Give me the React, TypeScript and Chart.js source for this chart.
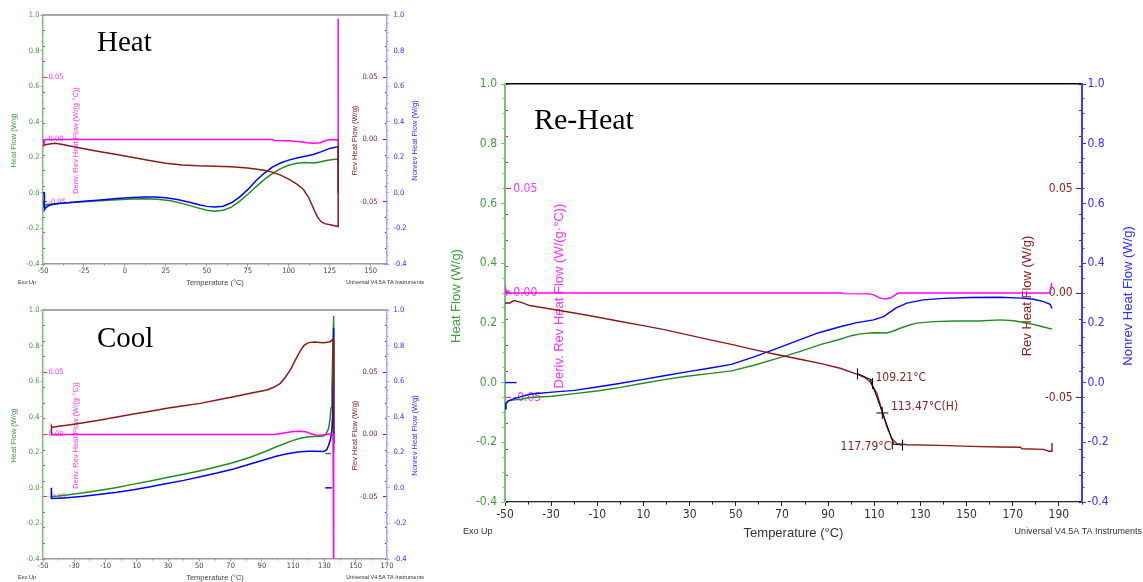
import React, { useEffect, useRef } from 'react';
import { Chart, registerables } from 'chart.js';

Chart.register(...registerables);

type Pt = [number, number];

/* ---------------- axis labels shared by the three runs ---------------- */
const heatFlowLabels = [-0.4, -0.2, 0, 0.2, 0.4, 0.6, 0.8, 1.0];
const revFlowLabels = [-0.05, 0, 0.05];

/* ---------------- Heat ---------------- */
const heatTempLabels = [-50, -25, 0, 25, 50, 75, 100, 125, 150];

const heatHeatFlow: Pt[] = [
  [-50, -0.045], [-49.5, -0.077], [-48.8, -0.07], [-47.5, -0.066], [-45, -0.063], [-40, -0.059],
  [-35, -0.056], [-25, -0.05], [-15, -0.044], [-5, -0.039], [5, -0.035], [12, -0.033], [20, -0.036],
  [28, -0.045], [36, -0.062], [44, -0.083], [50, -0.098], [55, -0.104], [60, -0.098], [65, -0.08],
  [70, -0.048], [75, -0.008], [80, 0.034], [85, 0.074], [90, 0.108], [95, 0.136], [100, 0.155],
  [105, 0.166], [110, 0.171], [115, 0.168], [119, 0.174], [123, 0.182], [127, 0.188], [130.2, 0.19],
  [130.2, 0.165],
];

const heatNonrevHeatFlow: Pt[] = [
  [-50, 0.0], [-49.3, 0.0], [-49.1, -0.095], [-48.5, -0.086], [-47, -0.074], [-45, -0.067], [-40, -0.06],
  [-35, -0.055], [-25, -0.047], [-15, -0.04], [-5, -0.032], [5, -0.026], [12, -0.023], [18, -0.023],
  [25, -0.027], [32, -0.037], [40, -0.054], [46, -0.068], [50, -0.076], [55, -0.08], [60, -0.075],
  [65, -0.056], [70, -0.024], [75, 0.018], [80, 0.068], [85, 0.11], [90, 0.145], [95, 0.168],
  [100, 0.184], [105, 0.196], [110, 0.206], [115, 0.216], [120, 0.232], [125, 0.25], [130.2, 0.26],
  [130.2, 0.0],
];

const heatRevHeatFlow: Pt[] = [
  [-50, -0.001], [-49.6, -0.005], [-48.8, -0.0042], [-46, -0.0036], [-42.5, -0.003], [-38, -0.004],
  [-35, -0.0048], [-25, -0.0074], [-15, -0.0098], [-5, -0.0121], [5, -0.0144], [15, -0.0168],
  [25, -0.019], [35, -0.0205], [45, -0.0211], [55, -0.0214], [65, -0.0219], [75, -0.0228],
  [85, -0.0247], [90, -0.0262], [95, -0.0286], [100, -0.0318], [105, -0.0358], [109, -0.0402],
  [112, -0.0462], [114, -0.052], [116, -0.058], [118, -0.0632], [120, -0.0662], [122, -0.0676],
  [126, -0.0687], [130.2, -0.0699], [130.2, 0.0],
];

const heatDerivRevHeatFlow: Pt[] = [
  [-50, 0.0], [-49.6, -0.005], [-49.1, -0.001], [-48.5, 0.0], [90, 0.0], [91, -0.0008], [100, -0.0011],
  [107, -0.0018], [111, -0.0026], [115.5, -0.0031], [119.5, -0.0026], [122, -0.001], [125, -0.0002],
  [127.5, 0.0], [129.5, -0.0005], [130.2, 0.0], [130.2, 0.097],
];

/* ---------------- Cool ---------------- */
const coolTempLabels = [-50, -30, -10, 10, 30, 50, 70, 90, 110, 130, 150, 170];

const coolHeatFlow: Pt[] = [
  [-44.6, -0.049], [-40, -0.046], [-34.7, -0.04], [-24, -0.028], [-13.3, -0.013], [-2.7, 0.002],
  [8, 0.021], [18.6, 0.038], [29.3, 0.058], [40, 0.077], [50.6, 0.096], [61.3, 0.119], [71.9, 0.143],
  [82.6, 0.172], [93.3, 0.209], [98.6, 0.228], [103.9, 0.247], [109, 0.264], [114.6, 0.279],
  [119, 0.286], [123.1, 0.289], [129.5, 0.291], [130.8, 0.3], [132.5, 0.33], [133.5, 0.38],
  [134.2, 0.45], [134.8, 0.56], [135.4, 0.8], [135.9, 0.968], [135.9, 0.2],
];
const coolHeatFlowStart: Pt[] = [[130.5, 0.193], [134.2, 0.193]];

const coolNonrevHeatFlow: Pt[] = [
  [-44.7, 0.0], [-44.6, -0.06], [-40, -0.058], [-34.7, -0.055], [-24, -0.047], [-13.3, -0.036],
  [-2.7, -0.025], [8, -0.011], [18.6, 0.006], [29.3, 0.025], [40, 0.042], [50.6, 0.062], [61.3, 0.083],
  [71.9, 0.106], [82.6, 0.134], [93.3, 0.162], [98.6, 0.176], [103.9, 0.187], [109, 0.196],
  [114.6, 0.203], [120, 0.206], [124, 0.206], [129.5, 0.205], [131.5, 0.215], [132.7, 0.24],
  [133.8, 0.27], [134.6, 0.31], [135.2, 0.4], [135.6, 0.6], [135.9, 0.9], [135.9, 0.25],
];
const coolNonrevStart: Pt[] = [[130.5, 0.0], [134.7, 0.0]];

const coolRevHeatFlow: Pt[] = [
  [-44.7, 0.0], [-44.6, 0.0067], [-44.2, 0.0056], [-40, 0.0066], [-34.7, 0.0075], [-24, 0.0095],
  [-13.3, 0.0116], [-2.7, 0.014], [8, 0.0164], [18.6, 0.0187], [29.3, 0.021], [40, 0.023],
  [50.6, 0.025], [61.3, 0.0277], [71.9, 0.0304], [82.6, 0.0331], [93.3, 0.0358], [97.5, 0.0379],
  [101.8, 0.0411], [105, 0.046], [108.2, 0.0519], [111.4, 0.06], [114.6, 0.0672], [116.7, 0.0712],
  [118.8, 0.0732], [121, 0.074], [124, 0.0742], [127, 0.0739], [129.5, 0.0737], [131.7, 0.0741],
  [133.8, 0.0747], [135.5, 0.0768], [135.9, 0.0768], [135.9, 0.0],
];

const coolDerivRevHeatFlow: Pt[] = [
  [-44.7, 0.0], [97.5, 0.0], [102, 0.0008], [106, 0.0016], [110, 0.0024], [114, 0.0027], [118, 0.0022],
  [121, 0.0008], [124, -0.0004], [127, -0.0006], [130, -0.0002], [133, 0.0004], [135.5, 0.0],
  [135.9, -0.02], [135.9, -0.11],
];

/* ---------------- Re-Heat ---------------- */
const reheatTempLabels = [-50, -30, -10, 10, 30, 50, 70, 90, 110, 130, 150, 170, 190];

const reheatHeatFlow: Pt[] = [
  [-50, -0.085], [-49.6, -0.068], [-48.5, -0.061], [-46, -0.058], [-43, -0.056], [-39.3, -0.05],
  [-29.6, -0.046], [-19.9, -0.037], [-10.2, -0.028], [-0.5, -0.017], [9.3, -0.003], [19, 0.01],
  [28.7, 0.021], [38.4, 0.03], [48.1, 0.039], [57.9, 0.058], [67.6, 0.08], [77.3, 0.103], [87, 0.128],
  [95.2, 0.145], [100, 0.157], [104, 0.163], [109.7, 0.167], [115.4, 0.166], [118, 0.172],
  [121.2, 0.182], [125, 0.192], [128.4, 0.199], [135.6, 0.204], [145.3, 0.206], [155, 0.206],
  [164.7, 0.21], [170.6, 0.207], [174.4, 0.201], [179, 0.195], [183, 0.187], [187, 0.179],
];

const reheatNonrevHeatFlow: Pt[] = [
  [-50, -0.088], [-49.6, -0.07], [-48.5, -0.061], [-46, -0.054], [-43, -0.047], [-39.3, -0.039],
  [-29.6, -0.032], [-19.9, -0.026], [-10.2, -0.015], [-0.5, -0.003], [9.3, 0.01], [19, 0.023],
  [28.7, 0.036], [38.4, 0.048], [48.1, 0.061], [57.9, 0.086], [67.6, 0.114], [77.3, 0.142], [86, 0.167],
  [95.2, 0.187], [102, 0.2], [109.7, 0.21], [114, 0.221], [117, 0.237], [119.5, 0.25], [124.1, 0.266],
  [131.3, 0.277], [140, 0.282], [151.6, 0.285], [164.6, 0.286], [174, 0.283], [179, 0.279],
  [183.4, 0.271], [186.2, 0.262], [187, 0.248],
];
const reheatNonrevStart: Pt[] = [[-50, 0.0], [-45, 0.0]];

const reheatRevHeatFlow: Pt[] = [
  [-50, -0.0052], [-49, -0.0047], [-48.2, -0.0049], [-46, -0.0036], [-43, -0.0045], [-39.3, -0.006],
  [-29.6, -0.0078], [-19.9, -0.0096], [-10.2, -0.0115], [-0.5, -0.0135], [9.3, -0.0155], [19, -0.0175],
  [28.7, -0.0199], [38.4, -0.0223], [48.1, -0.0246], [57.9, -0.0271], [67.6, -0.0294], [77.3, -0.0316],
  [87, -0.0338], [95.2, -0.036], [102.4, -0.0388], [106, -0.0405], [108.2, -0.0425], [111.1, -0.048],
  [113.3, -0.0561], [115.5, -0.0641], [117.6, -0.0697], [119.8, -0.0721], [124.1, -0.0726],
  [138.6, -0.0729], [151.6, -0.0734], [164.6, -0.0737], [173.3, -0.0738], [174, -0.0745],
  [183.4, -0.0748], [185.6, -0.0757], [186.6, -0.0757], [187, -0.0718],
];

const reheatDerivRevHeatFlow: Pt[] = [
  [-50, 0.0], [-49.6, 0.0015], [-49.2, -0.0005], [-48.6, 0.001], [-48, 0.0], [96, 0.0], [96.7, -0.0003],
  [108, -0.0004], [110, -0.001], [112, -0.0022], [114.7, -0.0029], [117, -0.0024], [119, -0.001],
  [120.4, 0.0], [186.2, 0.0], [186.9, 0.0048],
];

// glass transition analysis on the reversing signal
const reheatOnsetTangent: Pt[] = [[102.7, -0.0385], [109.6, -0.042]];
const reheatStepTangent: Pt[] = [[108.2, -0.041], [118.4, -0.0721]];
const reheatEndTangent: Pt[] = [[117.6, -0.0722], [122.2, -0.0728]];
const reheatLimitTemps = [102.7, 122.2];
const reheatLimitRev = [-0.0387, -0.0728];
const reheatTransitionTemps = [109.21, 113.47, 117.79];
const reheatTransitionRev = [-0.0433, -0.0574, -0.0722];
const reheatTransitionTags = ['', '(H)', ''];

/* ---------------- look ---------------- */
const NARROW = '"Liberation Sans Narrow", "Arial Narrow", "DejaVu Sans Condensed", "Liberation Sans", sans-serif';
const SANS = '"Liberation Sans", Arial, sans-serif';
const SERIF = '"Liberation Serif", "Times New Roman", serif';

const GREEN = '#228b22';
const GREEN_TEXT = '#3f9f3f';
const GREEN_AXIS = '#7dc07d';
const BLUE = '#0000ff';
const BLUE_TEXT = '#3030ff';
const BROWN = '#8b1a1a';
const PINK = '#ff00ff';
const PINK_TEXT = '#ff33ff';

interface Look {
  tickFont: number; titleFont: number; noteFont: number; bigFont: number;
  majorTick: number; minorTick: number; innerMajor: number; innerMinor: number;
  hfPad: number; nonPad: number; derivPad: number; revPad: number; xPad: number;
  blueAxis: string; topAxis: string; bottomAxis: string; xLabelColor: string;
  axisWidth: number; topWidth: number; bottomWidth: number; curveWidth: number;
  hfTitleDx: number; derivTitleDx: number; revTitleDx: number; nonTitleDx: number;
  titleDy: number; xTitleDy: number; noteDy: number; noteLeft: number; noteRightInset: number;
}

const smallLook: Look = {
  tickFont: 7.5, titleFont: 7.5, noteFont: 5.5, bigFont: 29,
  majorTick: 2.5, minorTick: 1.5, innerMajor: 4, innerMinor: 2,
  hfPad: 1, nonPad: 4, derivPad: 5.5, revPad: -9.5, xPad: 0.5,
  blueAxis: '#a6a6ff', topAxis: '#a8a8a8', bottomAxis: '#9a9a9a', xLabelColor: '#444',
  axisWidth: 1.5, topWidth: 2, bottomWidth: 1.5, curveWidth: 1.5,
  hfTitleDx: -29, derivTitleDx: 33, revTitleDx: -32, nonTitleDx: 28,
  titleDy: 1, xTitleDy: 19, noteDy: 18, noteLeft: 18, noteRightInset: 6,
};

const largeLook: Look = {
  tickFont: 12, titleFont: 13, noteFont: 9, bigFont: 30,
  majorTick: 4, minorTick: 2.5, innerMajor: 6, innerMinor: 3,
  hfPad: 4, nonPad: 1.5, derivPad: 8.3, revPad: -9.3, xPad: 2,
  blueAxis: '#3d3dff', topAxis: '#000', bottomAxis: '#222', xLabelColor: '#333',
  axisWidth: 2, topWidth: 1.5, bottomWidth: 1.2, curveWidth: 1.4,
  hfTitleDx: -48.3, derivTitleDx: 54.3, revTitleDx: -54.7, nonTitleDx: 46.3,
  titleDy: 3, xTitleDy: 31, noteDy: 30, noteLeft: 23, noteRightInset: 1,
};

type AxisId = 'y' | 'yNon' | 'yRev' | 'yDeriv';
interface Series { pts: Pt[]; color: string; axis: AxisId; width?: number }
interface Marker { pts: Pt[]; style: 'line' | 'cross'; radius: number; rotation: number }
interface Caption {
  text: string; x: number; y: number; color: string; font: string;
  align?: CanvasTextAlign; baseline?: CanvasTextBaseline; vertical?: boolean;
}
interface PanelSpec {
  width: number; height: number; padTop: number; leftW: number; rightW: number; bottomH: number;
  xMin: number; xMax: number; xLabels: number[]; xMinorStep: number;
  title: string; titleX: number; titleY: number; look: Look;
  series: Series[]; markers?: Marker[]; notes?: (chart: Chart) => Caption[];
}

function steps(from: number, to: number, step: number): number[] {
  const out: number[] = [];
  for (let i = 0; ; i++) {
    const v = Math.round((from + i * step) * 1e6) / 1e6;
    if (v > to + 1e-9) break;
    out.push(v);
  }
  return out;
}

interface ScaleOpts {
  axis: 'x' | 'y'; position: string; min: number; max: number; weight: number; size: number;
  values: number[]; tickLength: number; tickColor: string; drawTicks?: boolean;
  labels?: { color: string; padding: number; mirror?: boolean; format: (v: number) => string };
  border?: { color: string; width: number };
}

function makeScale(o: ScaleOpts, fontSize: number) {
  return {
    type: 'linear', axis: o.axis, position: o.position, min: o.min, max: o.max, weight: o.weight,
    offset: false,
    afterBuildTicks: (sc: any) => { sc.ticks = o.values.map((value) => ({ value })); },
    afterFit: (sc: any) => {
      if (o.axis === 'y') sc.width = o.size; else sc.height = o.size;
      sc.paddingTop = 0; sc.paddingBottom = 0; sc.paddingLeft = 0; sc.paddingRight = 0;
    },
    grid: {
      display: true, drawOnChartArea: false, drawTicks: o.drawTicks ?? true,
      tickLength: o.tickLength, tickColor: o.tickColor, tickWidth: 1,
    },
    border: o.border ? { display: true, color: o.border.color, width: o.border.width } : { display: false },
    ticks: o.labels
      ? {
          display: true, autoSkip: false, maxRotation: 0, minRotation: 0,
          mirror: !!o.labels.mirror, padding: o.labels.padding, color: o.labels.color,
          font: { family: NARROW, size: fontSize },
          callback: (v: any) => o.labels!.format(Number(v)),
        }
      : { display: false },
  };
}

function buildScales(p: PanelSpec) {
  const s = p.look;
  const f = s.tickFont;
  const hfMinor = steps(-0.4, 1.0, 0.05);
  const revMinor = steps(-0.1, 0.1, 0.0125);
  const fmt1 = (v: number) => v.toFixed(1);
  const fmt2 = (v: number) => v.toFixed(2);
  return {
    x: makeScale({
      axis: 'x', position: 'bottom', min: p.xMin, max: p.xMax, weight: 10, size: p.bottomH,
      values: p.xLabels, tickLength: s.majorTick, tickColor: s.bottomAxis,
      labels: { color: s.xLabelColor, padding: s.xPad, format: (v) => String(v) },
      border: { color: s.bottomAxis, width: s.bottomWidth },
    }, f),
    xMinor: makeScale({
      axis: 'x', position: 'bottom', min: p.xMin, max: p.xMax, weight: 0, size: 0,
      values: steps(p.xMin, p.xMax, p.xMinorStep), tickLength: s.minorTick, tickColor: s.bottomAxis,
    }, f),
    xTop: makeScale({
      axis: 'x', position: 'top', min: p.xMin, max: p.xMax, weight: 0, size: 0,
      values: [p.xMin], tickLength: 0, drawTicks: false, tickColor: s.topAxis,
      border: { color: s.topAxis, width: s.topWidth },
    }, f),
    y: makeScale({
      axis: 'y', position: 'left', min: -0.4, max: 1.0, weight: 10, size: p.leftW,
      values: heatFlowLabels, tickLength: s.majorTick, tickColor: GREEN_AXIS,
      labels: { color: GREEN_TEXT, padding: s.hfPad, format: fmt1 },
      border: { color: GREEN_AXIS, width: s.axisWidth },
    }, f),
    yMinor: makeScale({
      axis: 'y', position: 'left', min: -0.4, max: 1.0, weight: 0, size: 0,
      values: hfMinor, tickLength: s.minorTick, tickColor: GREEN_AXIS,
    }, f),
    yDeriv: makeScale({
      axis: 'y', position: 'left', min: -0.1, max: 0.1, weight: 0, size: 0,
      values: revFlowLabels, tickLength: -s.innerMajor, tickColor: PINK,
      labels: { color: PINK_TEXT, padding: s.derivPad, mirror: true, format: fmt2 },
    }, f),
    yDerivMinor: makeScale({
      axis: 'y', position: 'left', min: -0.1, max: 0.1, weight: 0, size: 0,
      values: revMinor, tickLength: -s.innerMinor, tickColor: PINK,
    }, f),
    yRev: makeScale({
      axis: 'y', position: 'right', min: -0.1, max: 0.1, weight: 0, size: 0,
      values: revFlowLabels, tickLength: -s.innerMajor, tickColor: BROWN,
      labels: { color: BROWN, padding: s.revPad, mirror: true, format: fmt2 },
    }, f),
    yRevMinor: makeScale({
      axis: 'y', position: 'right', min: -0.1, max: 0.1, weight: 0, size: 0,
      values: revMinor, tickLength: -s.innerMinor, tickColor: BROWN,
    }, f),
    yNon: makeScale({
      axis: 'y', position: 'right', min: -0.4, max: 1.0, weight: 10, size: p.rightW,
      values: heatFlowLabels, tickLength: s.majorTick, tickColor: s.blueAxis,
      labels: { color: BLUE_TEXT, padding: s.nonPad, format: fmt1 },
      border: { color: s.blueAxis, width: s.axisWidth },
    }, f),
    yNonMinor: makeScale({
      axis: 'y', position: 'right', min: -0.4, max: 1.0, weight: 0, size: 0,
      values: hfMinor, tickLength: s.minorTick, tickColor: s.blueAxis,
    }, f),
  };
}

function captionsFor(p: PanelSpec, chart: Chart): Caption[] {
  const a = chart.chartArea;
  const s = p.look;
  const midY = (a.top + a.bottom) / 2 + s.titleDy;
  const tf = `${s.titleFont}px ${SANS}`;
  const nf = `${s.noteFont}px ${SANS}`;
  return [
    { text: 'Heat Flow (W/g)', x: a.left + s.hfTitleDx, y: midY, color: GREEN_TEXT, font: tf, vertical: true },
    { text: 'Deriv. Rev Heat Flow (W/(g·°C))', x: a.left + s.derivTitleDx, y: midY, color: PINK_TEXT, font: tf, vertical: true },
    { text: 'Rev Heat Flow (W/g)', x: a.right + s.revTitleDx, y: midY, color: BROWN, font: tf, vertical: true },
    { text: 'Nonrev Heat Flow (W/g)', x: a.right + s.nonTitleDx, y: midY, color: BLUE_TEXT, font: tf, vertical: true },
    { text: 'Temperature (°C)', x: (a.left + a.right) / 2, y: a.bottom + s.xTitleDy, color: s.xLabelColor, font: tf },
    { text: 'Exo Up', x: s.noteLeft, y: a.bottom + s.noteDy, color: '#333', font: nf, align: 'left' },
    { text: 'Universal V4.5A TA Instruments', x: p.width - s.noteRightInset, y: a.bottom + s.noteDy, color: '#333', font: nf, align: 'right' },
    { text: p.title, x: p.titleX, y: p.titleY, color: '#000', font: `${s.bigFont}px ${SERIF}`, align: 'left', baseline: 'alphabetic' },
    ...(p.notes ? p.notes(chart) : []),
  ];
}

function captionsPlugin(p: PanelSpec) {
  return {
    id: 'captions',
    beforeDatasetsDraw(chart: Chart) {
      const ctx = chart.ctx;
      for (const c of captionsFor(p, chart)) {
        ctx.save();
        ctx.translate(c.x, c.y);
        if (c.vertical) ctx.rotate(-Math.PI / 2);
        ctx.font = c.font;
        ctx.fillStyle = c.color;
        ctx.textAlign = c.align ?? 'center';
        ctx.textBaseline = c.baseline ?? 'middle';
        ctx.fillText(c.text, 0, 0);
        ctx.restore();
      }
    },
  };
}

function buildConfig(p: PanelSpec): any {
  const lines = p.series.map((s) => ({
    data: s.pts.map(([x, y]) => ({ x, y })),
    borderColor: s.color, backgroundColor: s.color,
    borderWidth: s.width ?? p.look.curveWidth,
    showLine: true, pointRadius: 0, pointHoverRadius: 0, tension: 0,
    xAxisID: 'x', yAxisID: s.axis,
  }));
  const marks = (p.markers ?? []).map((m) => ({
    data: m.pts.map(([x, y]) => ({ x, y })),
    showLine: false, pointStyle: m.style, pointRadius: m.radius, pointHoverRadius: m.radius,
    rotation: m.rotation, borderColor: '#000', backgroundColor: '#000', borderWidth: 1,
    xAxisID: 'x', yAxisID: 'yRev',
  }));
  const datasets = [...lines, ...marks].map((d, i) => ({ ...d, order: -i }));
  return {
    type: 'scatter',
    data: { datasets },
    options: {
      responsive: false, animation: false, devicePixelRatio: 1, events: [],
      layout: { padding: { top: p.padTop, left: 0, right: 0, bottom: 0 } },
      plugins: { legend: { display: false }, tooltip: { enabled: false }, title: { display: false } },
      scales: buildScales(p),
    },
    plugins: [captionsPlugin(p)],
  };
}

/* ---------------- the three panels ---------------- */
const heatPanel: PanelSpec = {
  width: 430, height: 290, padTop: 15, leftW: 43, rightW: 43, bottomH: 26,
  xMin: -50, xMax: 160, xLabels: heatTempLabels, xMinorStep: 12.5,
  title: 'Heat', titleX: 97, titleY: 51, look: smallLook,
  series: [
    { pts: heatHeatFlow, color: GREEN, axis: 'y' },
    { pts: heatNonrevHeatFlow, color: BLUE, axis: 'yNon' },
    { pts: heatRevHeatFlow, color: BROWN, axis: 'yRev' },
    { pts: heatDerivRevHeatFlow, color: PINK, axis: 'yDeriv' },
  ],
};

const coolPanel: PanelSpec = {
  width: 430, height: 292, padTop: 20, leftW: 43, rightW: 43, bottomH: 23,
  xMin: -50, xMax: 170, xLabels: coolTempLabels, xMinorStep: 10,
  title: 'Cool', titleX: 97, titleY: 57, look: smallLook,
  series: [
    { pts: coolHeatFlow, color: GREEN, axis: 'y' },
    { pts: coolHeatFlowStart, color: GREEN, axis: 'y' },
    { pts: coolNonrevHeatFlow, color: BLUE, axis: 'yNon' },
    { pts: coolNonrevStart, color: BLUE, axis: 'yNon' },
    { pts: coolRevHeatFlow, color: BROWN, axis: 'yRev' },
    { pts: coolDerivRevHeatFlow, color: PINK, axis: 'yDeriv' },
  ],
};

const noteDx = [3, 8.6, -1];
const noteDy = [-6, -6, 3];
const noteAlign: CanvasTextAlign[] = ['left', 'left', 'right'];

const reheatPanel: PanelSpec = {
  width: 703, height: 490, padTop: 24, leftW: 65, rightW: 61, bottomH: 48,
  xMin: -50, xMax: 200, xLabels: reheatTempLabels, xMinorStep: 10,
  title: 'Re-Heat', titleX: 94, titleY: 69, look: largeLook,
  series: [
    { pts: reheatHeatFlow, color: GREEN, axis: 'y' },
    { pts: reheatNonrevHeatFlow, color: BLUE, axis: 'yNon' },
    { pts: reheatNonrevStart, color: BLUE, axis: 'yNon' },
    { pts: reheatRevHeatFlow, color: BROWN, axis: 'yRev' },
    { pts: reheatDerivRevHeatFlow, color: PINK, axis: 'yDeriv' },
    { pts: reheatOnsetTangent, color: '#000', axis: 'yRev', width: 1 },
    { pts: reheatStepTangent, color: '#000', axis: 'yRev', width: 1 },
    { pts: reheatEndTangent, color: '#000', axis: 'yRev', width: 1 },
  ],
  markers: [
    {
      pts: [
        ...reheatLimitTemps.map((t, i): Pt => [t, reheatLimitRev[i]]),
        [reheatTransitionTemps[0], reheatTransitionRev[0]],
        [reheatTransitionTemps[2], reheatTransitionRev[2]],
      ],
      style: 'line', radius: 5.5, rotation: 90,
    },
    { pts: [[reheatTransitionTemps[1], reheatTransitionRev[1]]], style: 'cross', radius: 6, rotation: 0 },
  ],
  notes: (chart) =>
    reheatTransitionTemps.map((t, i) => ({
      text: `${t.toFixed(2)}°C${reheatTransitionTags[i]}`,
      x: chart.scales.x.getPixelForValue(t) + noteDx[i],
      y: chart.scales.yRev.getPixelForValue(reheatTransitionRev[i]) + noteDy[i],
      color: BROWN, font: `12px ${NARROW}`, align: noteAlign[i],
    })),
};

function DscPanel({ spec, left, top }: { spec: PanelSpec; left: number; top: number }) {
  const ref = useRef<HTMLCanvasElement>(null);
  useEffect(() => {
    if (!ref.current) return;
    const chart = new Chart(ref.current, buildConfig(spec));
    return () => chart.destroy();
  }, [spec]);
  return (
    <canvas
      ref={ref}
      width={spec.width}
      height={spec.height}
      style={{ position: 'absolute', left, top, width: spec.width, height: spec.height, display: 'block' }}
    />
  );
}

export default function App() {
  return (
    <div style={{ position: 'fixed', left: 0, top: 0, width: 1143, height: 582, background: '#fff', overflow: 'hidden' }}>
      <DscPanel spec={heatPanel} left={0} top={0} />
      <DscPanel spec={coolPanel} left={0} top={290} />
      <DscPanel spec={reheatPanel} left={440} top={60} />
    </div>
  );
}
